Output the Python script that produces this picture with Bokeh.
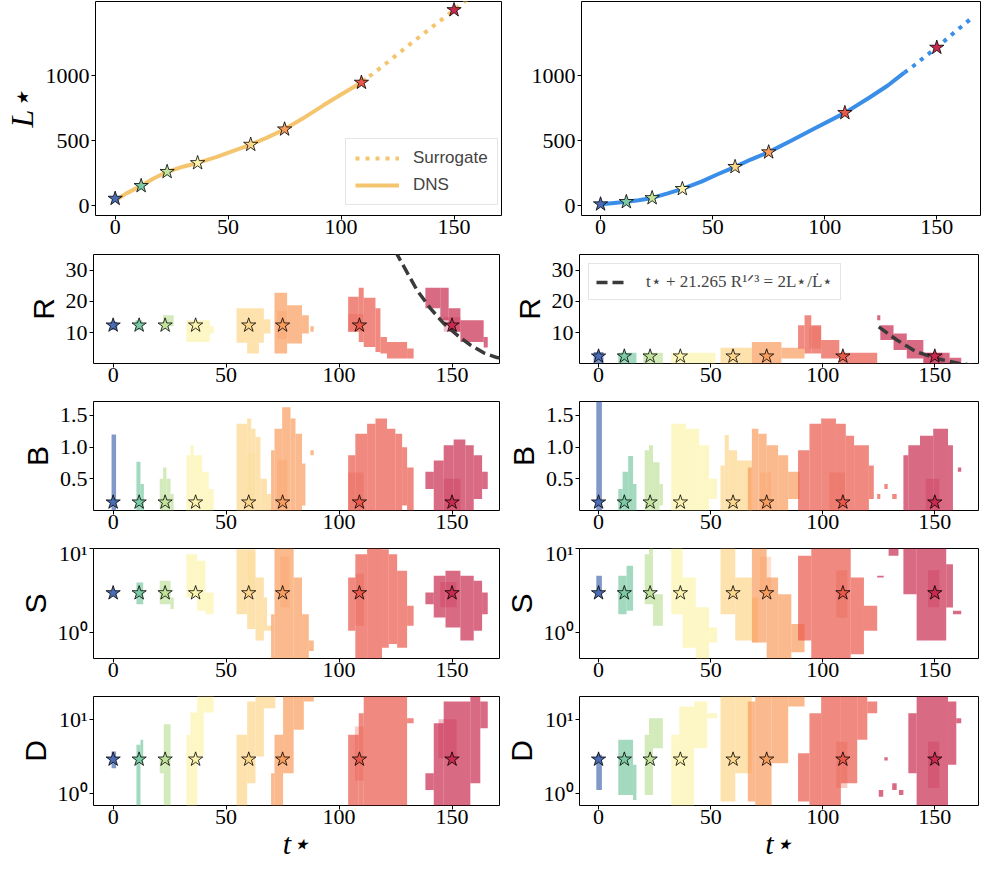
from bokeh.plotting import figure
from bokeh.models import Range1d, FixedTicker, Legend, LegendItem, ColumnDataSource
from bokeh.layouts import column, row
from bokeh.embed import file_html
from bokeh.resources import INLINE

# ---------------- data ----------------
star_t = [0, 11.5, 23, 36.5, 60, 75, 109, 150]
star_colors = ["#4b6cb2", "#7ccaa4", "#c1e39c", "#fcf3ad", "#fcd68b", "#f99d5e", "#e9594a", "#c92b4f"]

L_star_left = [55, 153, 261, 329, 470, 588, 947, 1505]
L_star_right = [12, 30, 60, 130, 299, 412, 714, 1216]

dns_t_left = [0, 5, 11.5, 17, 23, 30, 36.5, 45, 52, 60, 67, 75, 83, 92, 100, 109, 111]
dns_L_left = [40, 95, 153, 210, 261, 300, 329, 375, 420, 470, 522, 588, 670, 770, 855, 947, 975]
sur_t_left = [109, 120, 130, 140, 150, 156]
sur_L_left = [947, 1095, 1235, 1370, 1505, 1590]

dns_t_right = [0, 5, 11.5, 17, 23, 30, 36.5, 45, 52, 60, 67, 75, 85, 95, 109, 120, 128, 135.5]
dns_L_right = [12, 20, 30, 42, 60, 95, 130, 185, 240, 299, 355, 412, 500, 590, 714, 832, 922, 1023]
sur_t_right = [135.5, 140, 145, 150, 157, 164.7]
sur_L_right = [1023, 1080, 1150, 1216, 1320, 1430]

R_star_left, R_star_right = 12.4, 2.5
B_star, S_star, D_star = 0.13, 2.95, 2.9

crit_t_left = [125.0, 125.7, 134.5, 140.4, 146.3, 152.2, 158.1, 164.0, 169.9, 172]
crit_R_left = [36.2, 35.0, 23.6, 17.8, 13.0, 9.3, 6.1, 3.6, 2.1, 1.9]
crit_t_right = [125, 133.1, 141.9, 150.7, 161, 168]
crit_R_right = [11.9, 7.7, 3.9, 1.8, 0.2, -0.5]
crit_label = "t⋆ + 21.265 R¹ᐟ³ = 2L⋆/L̇⋆"

# histogram cells: (snapshot index, t0, t1, low, high)
R_left_cells = [
    (0, -1.2, 1.8, 10.9, 13.5), (1, 9.9, 12.8, 10.9, 14.0), (2, 22.1, 26.8, 12.1, 15.6),
    (3, 32.4, 42.8, 7.1, 14.0), (3, 42.8, 44.5, 9.8, 12.1),
    (4, 54.6, 66.7, 6.8, 17.8), (4, 59.3, 64.5, 3.4, 6.8), (4, 66.7, 69.6, 9.8, 14.3),
    (5, 71.4, 77.0, 3.4, 22.8), (5, 77.0, 83.6, 6.6, 18.8), (5, 83.6, 86.6, 9.8, 15.6), (5, 87.3, 88.8, 10.3, 12.1),
    (6, 104.0, 108.7, 10.3, 21.5), (6, 108.7, 110.9, 7.1, 24.4), (6, 110.9, 116.1, 5.5, 21.2),
    (6, 116.1, 118.3, 3.9, 17.8), (6, 118.3, 121.2, 3.4, 8.7), (6, 121.2, 130.1, 1.8, 7.1), (6, 130.1, 133.0, 1.8, 5.0),
    (7, 138.2, 144.8, 17.8, 24.4), (7, 144.8, 148.5, 14.0, 24.4), (7, 148.5, 153.7, 10.3, 17.8),
    (7, 153.7, 164.0, 7.1, 14.0), (7, 164.0, 165.8, 5.3, 8.7),
]
R_left_core = [(5, 72.6, 77.0, 8.0, 17.0), (6, 104.0, 110.9, 10.3, 16.0), (7, 146.3, 153.7, 10.3, 15.0)]
R_right_cells = [
    (0, -2.2, 2.2, 0.2, 3.9), (1, 8.8, 16.9, 0.2, 3.6), (2, 19.9, 28.7, 0.2, 3.6), (3, 32.4, 52.2, 0.2, 3.6),
    (4, 54.4, 68.4, 0.2, 5.2), (5, 68.4, 81.6, 0.2, 7.1), (5, 81.6, 91.9, 1.8, 5.2),
    (6, 89.0, 91.9, 5.0, 12.4), (6, 91.9, 94.9, 3.4, 15.6), (6, 94.9, 99.3, 3.4, 12.4),
    (6, 99.3, 107.4, 1.8, 7.7), (6, 107.4, 124.3, 0.2, 3.6),
    (7, 124.3, 125.7, 14.0, 15.6), (7, 125.7, 131.6, 7.7, 12.4), (7, 131.6, 137.5, 4.5, 9.8),
    (7, 137.5, 144.9, 1.8, 7.7), (7, 144.9, 156.6, 0.2, 3.6), (7, 156.6, 161.8, 0.2, 2.0),
]
R_right_core = [(6, 94.0, 99.3, 5.0, 12.0), (7, 144.9, 153.7, 0.2, 3.6)]
B_left_cells = [
    (0, -0.7, 1.3, 0, 1.20),
    (1, 10.3, 12.1, 0, 0.77), (1, 12.1, 13.6, 0, 0.42),
    (2, 20.6, 22.1, 0, 0.5), (2, 22.1, 23.6, 0, 0.68), (2, 23.6, 25.4, 0, 0.5), (2, 25.4, 26.8, 0, 0.26),
    (3, 32.4, 34.2, 0, 0.87), (3, 34.2, 35.7, 0, 1.03), (3, 35.7, 39.4, 0, 0.87), (3, 39.4, 42.3, 0, 0.61), (3, 42.3, 44.5, 0, 0.34),
    (4, 54.6, 59.3, 0, 1.37), (4, 59.3, 61.1, 0, 1.45), (4, 61.1, 63.0, 0, 1.29), (4, 63.0, 65.2, 0, 1.16),
    (4, 65.2, 68.1, 0, 0.5), (4, 68.1, 69.9, 0, 0.26),
    (5, 69.9, 71.4, 0, 0.95), (5, 71.4, 74.8, 0, 1.29), (5, 74.8, 78.5, 0, 1.63), (5, 78.5, 80.7, 0, 1.45),
    (5, 80.7, 83.6, 0, 1.21), (5, 83.6, 85.1, 0.08, 0.74), (5, 87.3, 88.8, 0.87, 0.95),
    (6, 104.0, 107.2, 0, 0.87), (6, 107.2, 112.4, 0, 1.21), (6, 112.4, 116.1, 0, 1.37), (6, 116.1, 121.2, 0, 1.45),
    (6, 121.2, 124.9, 0, 1.29), (6, 124.9, 127.9, 0, 1.21), (6, 127.9, 130.1, 0.08, 1.0), (6, 130.1, 133.0, 0, 0.68),
    (7, 138.2, 141.9, 0.34, 0.61), (7, 141.9, 146.3, 0, 0.79), (7, 146.3, 150.7, 0, 1.03), (7, 150.7, 155.9, 0, 1.12),
    (7, 155.9, 159.6, 0, 1.03), (7, 159.6, 163.3, 0.18, 0.87), (7, 163.3, 165.8, 0.34, 0.61),
]
B_left_core = [(4, 59.3, 63.0, 0, 0.9), (5, 72.6, 77.0, 0, 0.8), (6, 104.0, 110.9, 0, 0.6), (7, 146.3, 153.7, 0, 0.5)]
B_right_cells = [
    (0, -1.0, 1.5, 0, 1.72),
    (1, 8.8, 10.7, 0, 0.34), (1, 10.7, 13.2, 0, 0.61), (1, 13.2, 15.4, 0, 0.86), (1, 15.4, 16.9, 0, 0.42),
    (2, 20.6, 22.5, 0, 0.95), (2, 22.5, 24.3, 0, 1.03), (2, 24.3, 27.2, 0, 0.76), (2, 27.2, 28.7, 0.08, 0.42),
    (3, 32.4, 39.0, 0, 1.37), (3, 39.0, 44.9, 0, 1.29), (3, 44.9, 49.3, 0, 1.03), (3, 49.3, 52.9, 0.18, 0.5),
    (4, 54.4, 56.3, 0, 0.71), (4, 56.3, 58.1, 0, 1.19), (4, 58.1, 61.8, 0, 0.95), (4, 61.8, 68.4, 0, 0.79),
    (5, 66.6, 68.4, 0, 0.68), (5, 68.4, 71.3, 0, 1.29), (5, 71.3, 75.0, 0, 1.21), (5, 75.0, 80.1, 0, 1.03),
    (5, 80.1, 84.6, 0, 0.87), (5, 84.6, 89.7, 0.18, 0.61),
    (6, 89.0, 94.1, 0, 0.95), (6, 94.1, 99.3, 0, 1.37), (6, 99.3, 105.9, 0, 1.45), (6, 105.9, 110.3, 0, 1.37),
    (6, 110.3, 114.0, 0, 1.18), (6, 114.0, 120.6, 0, 1.03), (6, 120.6, 122.8, 0.18, 0.71),
    (6, 124.3, 125.7, 0.18, 0.26), (6, 127.5, 129.0, 0.34, 0.42), (6, 131.0, 133.0, 0.18, 0.26),
    (7, 136.0, 138.2, 0, 0.87), (7, 138.2, 143.4, 0, 1.03), (7, 143.4, 149.3, 0, 1.18), (7, 149.3, 155.9, 0, 1.29),
    (7, 155.9, 158.1, 0, 1.03), (7, 160.3, 161.8, 0.61, 0.68),
]
B_right_core = [(5, 72.0, 77.0, 0, 0.6), (6, 103.0, 110.0, 0, 0.6), (7, 146.0, 152.0, 0, 0.5)]
S_left_cells = [
    (1, 10.3, 13.3, 2.17, 3.94),
    (2, 20.6, 25.4, 2.17, 4.12), (2, 25.4, 26.8, 1.90, 2.61),
    (3, 32.4, 37.2, 2.61, 8.57), (3, 37.2, 40.9, 1.81, 7.13), (3, 40.9, 44.5, 1.65, 2.99),
    (4, 54.6, 59.3, 1.65, 9.8), (4, 59.3, 63.0, 1.10, 9.8), (4, 63.0, 66.7, 0.80, 4.52),
    (4, 66.7, 68.1, 1.05, 2.61), (4, 68.1, 70.4, 1.05, 1.20),
    (5, 69.9, 71.4, 0.49, 1.65), (5, 71.4, 79.9, 0.49, 10), (5, 79.9, 83.6, 0.49, 4.52),
    (5, 83.6, 86.6, 0.49, 1.65), (5, 86.6, 88.8, 0.60, 0.80),
    (6, 104.0, 107.2, 1.05, 4.52), (6, 107.2, 112.4, 0.49, 8.57), (6, 112.4, 119.0, 0.49, 10),
    (6, 119.0, 122.0, 0.66, 9.8), (6, 122.0, 125.7, 0.73, 8.57), (6, 125.7, 130.1, 0.66, 5.42), (6, 130.1, 133.0, 1.20, 2.08),
    (7, 138.2, 141.9, 2.17, 2.99), (7, 141.9, 147.1, 1.51, 4.73), (7, 147.1, 153.7, 1.15, 5.42),
    (7, 153.7, 159.6, 0.80, 4.73), (7, 159.6, 163.3, 1.05, 4.12), (7, 163.3, 165.8, 1.65, 2.99),
]
S_left_core = [(4, 59.3, 63.0, 3.0, 9.0), (5, 74.0, 78.0, 2.0, 8.0), (6, 107.2, 111.0, 1.2, 5.0), (7, 144.8, 152.0, 2.0, 4.0)]
S_right_cells = [
    (0, -1.0, 1.5, 2.94, 4.73),
    (1, 8.8, 12.5, 1.65, 4.73), (1, 12.5, 15.4, 1.81, 6.22),
    (2, 20.6, 24.3, 2.17, 8.57), (2, 22.5, 24.3, 8.57, 10), (2, 24.3, 28.7, 1.20, 2.86),
    (3, 32.4, 37.5, 1.65, 10), (3, 37.5, 43.4, 0.66, 4.52), (3, 43.4, 49.3, 0.49, 2.00), (3, 49.3, 52.9, 0.76, 1.15),
    (4, 54.4, 61.0, 1.65, 10), (4, 61.0, 68.4, 0.80, 4.52), (4, 68.4, 71.3, 0.76, 2.61),
    (5, 68.4, 75.0, 0.76, 10), (5, 75.0, 80.1, 0.49, 4.52), (5, 80.1, 86.0, 0.49, 2.86), (5, 86.0, 91.9, 0.58, 1.26),
    (6, 89.0, 94.9, 0.80, 8.18), (6, 94.9, 112.5, 0.49, 10), (6, 112.5, 118.4, 0.55, 4.52), (6, 118.4, 124.3, 1.05, 2.08),
    (7, 124.3, 127.2, 4.5, 4.73), (7, 129.4, 133.8, 8.18, 10), (7, 136.0, 141.9, 2.86, 10),
    (7, 141.9, 155.1, 0.80, 10), (7, 155.1, 158.1, 1.98, 6.51), (7, 158.1, 161.8, 1.65, 1.81),
]
S_right_core = [(5, 72.0, 77.0, 3.0, 8.0), (6, 106.0, 111.0, 1.5, 5.5), (7, 147.0, 152.0, 2.0, 5.5)]
D_left_cells = [
    (0, -0.7, 1.3, 2.21, 3.69),
    (1, 10.3, 12.1, 0.70, 4.53), (1, 12.1, 13.3, 2.57, 5.29),
    (2, 22.4, 25.4, 0.70, 8.57), (2, 20.6, 22.4, 1.89, 3.16),
    (3, 32.4, 34.2, 0.70, 6.17), (3, 34.2, 37.2, 0.70, 12.3), (3, 37.2, 40.1, 3.16, 20.1), (3, 40.1, 44.5, 12.3, 20.1),
    (4, 54.6, 59.3, 0.70, 6.17), (4, 59.3, 63.0, 1.39, 17.2), (4, 63.0, 66.7, 3.16, 20.1), (4, 66.7, 71.8, 14.0, 20.1),
    (5, 69.9, 71.4, 0.70, 1.89), (5, 71.4, 75.2, 0.70, 6.17), (5, 75.2, 79.9, 1.89, 20.1),
    (5, 79.9, 84.4, 7.2, 20.1), (5, 84.4, 88.8, 17.2, 20.1),
    (6, 104.0, 108.7, 0.70, 6.17), (6, 108.7, 110.9, 0.70, 12.0), (6, 110.9, 130.1, 0.70, 20.1), (6, 130.1, 133.0, 8.84, 10.3),
    (7, 138.2, 141.9, 1.13, 1.89), (7, 141.9, 146.3, 0.70, 8.84), (7, 146.3, 158.1, 0.70, 17.2),
    (7, 158.1, 162.5, 1.39, 20.1), (7, 162.5, 165.8, 7.57, 17.2),
]
D_left_core = [(6, 107.0, 111.0, 1.5, 8.0), (7, 144.0, 152.0, 3.0, 10.0)]
D_right_cells = [
    (0, -1.0, 1.5, 1.13, 3.33),
    (1, 8.8, 15.4, 0.97, 5.29), (1, 15.4, 16.9, 0.83, 2.45),
    (2, 20.6, 24.3, 0.97, 6.17), (2, 22.5, 24.3, 6.17, 10.3), (2, 24.3, 28.7, 4.09, 10.3),
    (3, 32.4, 36.0, 0.70, 6.17), (3, 36.0, 42.6, 0.70, 14.8), (3, 42.6, 48.5, 4.09, 17.2), (3, 48.5, 52.9, 10.3, 12.0),
    (4, 54.4, 61.0, 0.79, 20.1), (4, 61.0, 68.4, 1.89, 20.1),
    (5, 66.6, 69.9, 0.79, 17.2), (5, 69.9, 77.2, 0.70, 20.1), (5, 77.2, 84.6, 2.57, 20.1), (5, 84.6, 91.9, 14.8, 20.1),
    (6, 89.0, 94.1, 0.79, 3.51), (6, 94.1, 99.3, 0.70, 12.0), (6, 99.3, 108.1, 0.70, 20.1),
    (6, 108.1, 115.4, 1.39, 20.1), (6, 115.4, 119.9, 5.29, 20.1), (6, 119.9, 124.3, 12.0, 17.2),
    (7, 125.0, 127.0, 0.92, 1.13), (7, 127.5, 129.0, 2.8, 3.1), (7, 131.0, 133.0, 1.13, 1.39), (7, 134.0, 136.0, 0.97, 1.13),
    (7, 138.2, 141.9, 1.89, 12.0), (7, 141.9, 155.9, 0.70, 20.1), (7, 155.9, 159.6, 2.45, 17.2), (7, 159.6, 161.8, 8.84, 10.3),
]
D_right_core = [(6, 106.0, 111.0, 1.2, 5.0), (7, 147.0, 152.0, 1.2, 5.0)]

t_ticks = [0, 50, 100, 150]

# ---------------- layout constants (pixels) ----------------
FRAME_H = [214, 109, 109, 110, 109]
TOP_B = [1, 9, 8, 8, 8]
BOT_B = [30, 30, 30, 30, 62]
SERIF = "Liberation Serif"
SANS = "Liberation Sans"
LEFT_W, RIGHT_W = 406, 399


def make(side, ri, yr, log=False):
    if side == "L":
        fw, bl, br, xr = LEFT_W, 93, 1, Range1d(-8.7, 171)
    else:
        fw, bl, br, xr = RIGHT_W, 79, 1, Range1d(-8.5, 169.5)
    p = figure(frame_width=fw, frame_height=FRAME_H[ri], x_range=xr, y_range=yr,
               y_axis_type=("log" if log else "linear"), output_backend="svg",
               toolbar_location=None, min_border_left=bl, min_border_right=br,
               min_border_top=TOP_B[ri], min_border_bottom=BOT_B[ri])
    p.xgrid.visible = False
    p.ygrid.visible = False
    p.outline_line_color = "black"
    p.outline_line_alpha = 1.0
    p.outline_line_width = 1
    for axl in (p.xaxis, p.yaxis):
        axl.axis_line_color = None
        axl.major_tick_out = 4
        axl.major_tick_in = 0
        axl.major_tick_line_color = "black"
        axl.minor_tick_line_color = None
        axl.major_label_text_font = SERIF
        axl.major_label_text_font_style = "normal"
        axl.major_label_text_font_size = "22px"
        axl.major_label_text_color = "black"
    p.xaxis.ticker = FixedTicker(ticks=t_ticks)
    p.xaxis.major_label_standoff = 0
    p.yaxis.major_label_standoff = 2
    return p


def set_ylabel(p, text, font=SANS, style="normal", size="30px"):
    p.yaxis.axis_label = text
    p.yaxis.axis_label_text_font = font
    p.yaxis.axis_label_text_font_style = style
    p.yaxis.axis_label_text_font_size = size
    p.yaxis.axis_label_standoff = 3
    p.yaxis.axis_label_text_color = "black"


def draw_cells(p, cells, alpha):
    src = ColumnDataSource(dict(
        left=[c[1] for c in cells], right=[c[2] for c in cells],
        bottom=[c[3] for c in cells], top=[c[4] for c in cells],
        color=[star_colors[c[0]] for c in cells]))
    p.quad(left="left", right="right", bottom="bottom", top="top", source=src,
           fill_color="color", fill_alpha=alpha, line_color=None)


def draw_stars(p, yvals):
    p.scatter(star_t, yvals, marker="star", size=15, fill_color=star_colors,
              line_color="black", line_width=0.8)


figs = []
# ---- row 1 ----
for side in ("L", "R"):
    p = make(side, 0, Range1d(-75, 1570))
    p.yaxis.ticker = FixedTicker(ticks=[0, 500, 1000])
    if side == "L":
        col, ts, Ls, td, Ld, st = "#f4c56e", sur_t_left, sur_L_left, dns_t_left, dns_L_left, L_star_left
    else:
        col, ts, Ls, td, Ld, st = "#3a8ee8", sur_t_right, sur_L_right, dns_t_right, dns_L_right, L_star_right
    r_sur = p.line(ts, Ls, line_color=col, line_width=4, line_dash="4 6")
    r_dns = p.line(td, Ld, line_color=col, line_width=4)
    draw_stars(p, st)
    if side == "L":
        set_ylabel(p, "L⋆", font=SERIF, style="italic", size="32px")
        leg = Legend(items=[LegendItem(label="Surrogate", renderers=[r_sur]),
                            LegendItem(label="DNS", renderers=[r_dns])],
                     location=(250, 10))
        leg.label_text_font = SANS
        leg.label_text_font_size = "17px"
        leg.glyph_width = 44
        leg.glyph_height = 20
        leg.label_standoff = 14
        leg.padding = 9
        leg.spacing = 7
        leg.margin = 0
        leg.border_line_color = "#cccccc"
        leg.background_fill_alpha = 0.85
        p.add_layout(leg)
    figs.append(p)

# ---- row 2 (R) ----
for side in ("L", "R"):
    p = make(side, 1, Range1d(0.2, 35))
    p.yaxis.ticker = FixedTicker(ticks=[10, 20, 30])
    if side == "L":
        draw_cells(p, R_left_cells, 0.7)
        draw_cells(p, R_left_core, 0.3)
        p.line(crit_t_left, crit_R_left, line_color="#3a3a3a", line_width=3.5, line_dash="11 5")
        draw_stars(p, [R_star_left] * len(star_t))
    else:
        draw_cells(p, R_right_cells, 0.7)
        draw_cells(p, R_right_core, 0.3)
        rc = p.line(crit_t_right, crit_R_right, line_color="#3a3a3a", line_width=3.5, line_dash="11 5")
        draw_stars(p, [R_star_right] * len(star_t))
        leg = Legend(items=[LegendItem(label=crit_label, renderers=[rc])], location="top_left")
        leg.margin = 9
        leg.padding = 7
        leg.label_text_font = SERIF
        leg.label_text_font_size = "17px"
        leg.glyph_width = 32
        leg.glyph_height = 20
        leg.label_standoff = 18
        leg.border_line_color = "#cccccc"
        leg.background_fill_alpha = 0.85
        p.add_layout(leg)
    set_ylabel(p, "R")
    figs.append(p)

# ---- row 3 (B) ----
for side in ("L", "R"):
    p = make(side, 2, Range1d(0, 1.72))
    p.yaxis.ticker = FixedTicker(ticks=[0.5, 1.0, 1.5])
    p.yaxis.major_label_overrides = {0.5: "0.5", 1: "1.0", 1.5: "1.5"}
    draw_cells(p, B_left_cells if side == "L" else B_right_cells, 0.7)
    draw_cells(p, B_left_core if side == "L" else B_right_core, 0.3)
    draw_stars(p, [B_star] * len(star_t))
    set_ylabel(p, "B")
    figs.append(p)

# ---- row 4 (S) ----
for side in ("L", "R"):
    p = make(side, 3, Range1d(0.49, 10), log=True)
    p.yaxis.ticker = FixedTicker(ticks=[1, 10])
    p.yaxis.major_label_overrides = {1: "10⁰", 10: "10¹"}
    draw_cells(p, S_left_cells if side == "L" else S_right_cells, 0.7)
    draw_cells(p, S_left_core if side == "L" else S_right_core, 0.3)
    draw_stars(p, [S_star] * len(star_t))
    set_ylabel(p, "S")
    figs.append(p)

# ---- row 5 (D) ----
for side in ("L", "R"):
    p = make(side, 4, Range1d(0.7, 20.1), log=True)
    p.yaxis.ticker = FixedTicker(ticks=[1, 10])
    p.yaxis.major_label_overrides = {1: "10⁰", 10: "10¹"}
    draw_cells(p, D_left_cells if side == "L" else D_right_cells, 0.7)
    draw_cells(p, D_left_core if side == "L" else D_right_core, 0.3)
    draw_stars(p, [D_star] * len(star_t))
    set_ylabel(p, "D")
    p.xaxis.axis_label = "t⋆"
    p.xaxis.axis_label_text_font = SERIF
    p.xaxis.axis_label_text_font_style = "italic"
    p.xaxis.axis_label_text_font_size = "30px"
    p.xaxis.axis_label_standoff = 0
    p.xaxis.axis_label_text_color = "black"
    figs.append(p)

layout = column(*[row(figs[2 * i], figs[2 * i + 1]) for i in range(5)])
open("out.html", "w").write(file_html(layout, INLINE, "chart"))
